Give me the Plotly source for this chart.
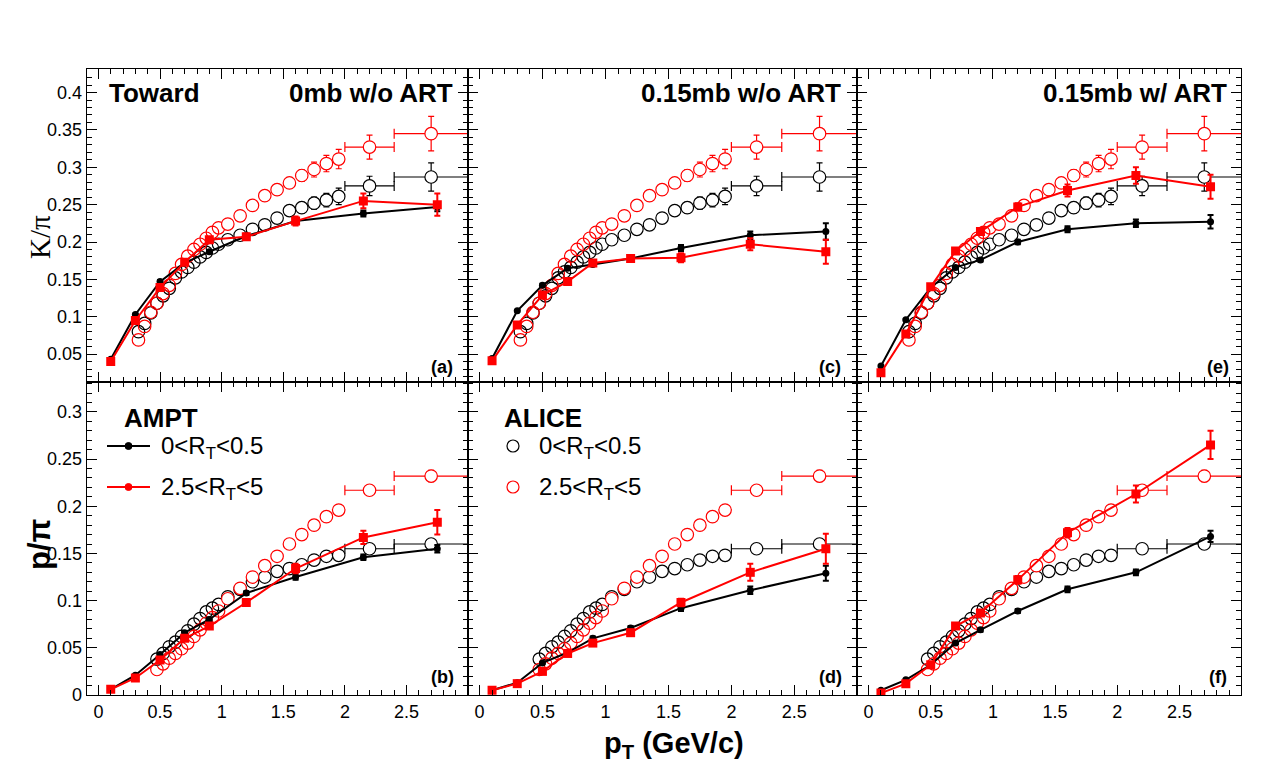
import plotly.graph_objects as go

# the page body adds an 8 px margin on every side; keep the page inside the window
OFF = 8
W, H = 1288 - 2 * OFF, 774 - 2 * OFF
SY = 0.987  # the captured picture comes out slightly squeezed vertically

# AMPT pT points (same in every panel)
ampt_pt = [0.1, 0.3, 0.5, 0.7, 0.9, 1.2, 1.6, 2.15, 2.75]

# (a) K/pi, 0mb w/o ART
a_low = [0.043, 0.103, 0.147, 0.172, 0.187, 0.208, 0.228, 0.238, 0.247]
a_low_err = [0.001, 0.001, 0.002, 0.002, 0.002, 0.003, 0.003, 0.004, 0.006]
a_high = [0.040, 0.095, 0.139, 0.173, 0.203, 0.207, 0.228, 0.255, 0.250]
a_high_err = [0.001, 0.002, 0.002, 0.003, 0.003, 0.004, 0.006, 0.010, 0.015]
# (c) K/pi, 0.15mb w/o ART
c_low = [0.044, 0.108, 0.142, 0.165, 0.170, 0.178, 0.192, 0.209, 0.214]
c_low_err = [0.001, 0.001, 0.002, 0.002, 0.002, 0.003, 0.004, 0.005, 0.011]
c_high = [0.041, 0.089, 0.129, 0.147, 0.172, 0.178, 0.179, 0.197, 0.187]
c_high_err = [0.001, 0.002, 0.002, 0.003, 0.003, 0.004, 0.006, 0.008, 0.016]
# (e) K/pi, 0.15mb w/ ART
e_low = [0.034, 0.096, 0.139, 0.166, 0.176, 0.200, 0.217, 0.225, 0.227]
e_low_err = [0.001, 0.001, 0.002, 0.002, 0.002, 0.003, 0.004, 0.005, 0.009]
e_high = [0.025, 0.077, 0.140, 0.188, 0.214, 0.247, 0.269, 0.289, 0.274]
e_high_err = [0.001, 0.002, 0.002, 0.003, 0.004, 0.005, 0.008, 0.011, 0.016]
# (b) p/pi, 0mb w/o ART
b_low = [0.006, 0.021, 0.043, 0.066, 0.080, 0.108, 0.125, 0.146, 0.155]
b_low_err = [0.0005, 0.001, 0.001, 0.001, 0.002, 0.002, 0.003, 0.003, 0.004]
b_high = [0.006, 0.018, 0.037, 0.060, 0.073, 0.098, 0.134, 0.167, 0.183]
b_high_err = [0.0005, 0.001, 0.001, 0.002, 0.002, 0.003, 0.005, 0.007, 0.013]
# (d) p/pi, 0.15mb w/o ART
d_low = [0.005, 0.013, 0.034, 0.045, 0.060, 0.071, 0.092, 0.111, 0.129]
d_low_err = [0.0005, 0.001, 0.001, 0.001, 0.002, 0.002, 0.003, 0.004, 0.008]
d_high = [0.005, 0.012, 0.025, 0.044, 0.055, 0.066, 0.098, 0.130, 0.155]
d_high_err = [0.0005, 0.001, 0.001, 0.002, 0.002, 0.003, 0.004, 0.009, 0.016]
# (f) p/pi, 0.15mb w/ ART
f_low = [0.005, 0.016, 0.032, 0.055, 0.069, 0.089, 0.112, 0.130, 0.168]
f_low_err = [0.0005, 0.001, 0.001, 0.001, 0.002, 0.002, 0.003, 0.003, 0.006]
f_high = [0.002, 0.012, 0.032, 0.073, 0.087, 0.122, 0.172, 0.213, 0.265]
f_high_err = [0.0005, 0.001, 0.002, 0.002, 0.003, 0.004, 0.005, 0.009, 0.015]

# ALICE K/pi
kpi_pt = [0.325, 0.375, 0.425, 0.475, 0.525, 0.575, 0.625, 0.675, 0.725, 0.775, 0.825, 0.875, 0.925,
          0.975, 1.05, 1.15, 1.25, 1.35, 1.45, 1.55, 1.65, 1.75, 1.85, 1.95, 2.2, 2.7]
kpi_xerr = [0, 0, 0, 0, 0, 0, 0, 0, 0, 0, 0, 0, 0, 0, 0, 0, 0, 0, 0, 0, 0, 0, 0, 0, 0.2, 0.3]
kpi_low = [0.080, 0.091, 0.105, 0.118, 0.128, 0.138, 0.152, 0.160, 0.166, 0.173, 0.180, 0.186, 0.192,
           0.197, 0.203, 0.209, 0.217, 0.223, 0.232, 0.242, 0.246, 0.252, 0.256, 0.261, 0.275, 0.287]
kpi_low_err = [0.002, 0.002, 0.002, 0.002, 0.002, 0.002, 0.002, 0.002, 0.002, 0.002, 0.002, 0.002, 0.002,
               0.002, 0.003, 0.003, 0.004, 0.004, 0.005, 0.006, 0.007, 0.008, 0.009, 0.011, 0.013, 0.019]
kpi_high = [0.069, 0.087, 0.106, 0.118, 0.131, 0.142, 0.158, 0.170, 0.181, 0.190, 0.197, 0.205, 0.213,
            0.219, 0.224, 0.235, 0.249, 0.262, 0.270, 0.279, 0.289, 0.297, 0.305, 0.311, 0.327, 0.345]
kpi_high_err = [0.002, 0.002, 0.002, 0.002, 0.002, 0.002, 0.002, 0.002, 0.002, 0.002, 0.002, 0.002, 0.002,
                0.002, 0.003, 0.004, 0.004, 0.005, 0.006, 0.007, 0.008, 0.010, 0.011, 0.013, 0.016, 0.023]

# ALICE p/pi
ppi_pt = [0.475, 0.525, 0.575, 0.625, 0.675, 0.725, 0.775, 0.825, 0.875, 0.925, 0.975, 1.05, 1.15,
          1.25, 1.35, 1.45, 1.55, 1.65, 1.75, 1.85, 1.95, 2.2, 2.7]
ppi_xerr = [0, 0, 0, 0, 0, 0, 0, 0, 0, 0, 0, 0, 0, 0, 0, 0, 0, 0, 0, 0, 0, 0.2, 0.3]
ppi_low = [0.038, 0.044, 0.051, 0.056, 0.062, 0.068, 0.075, 0.081, 0.088, 0.092, 0.096, 0.104, 0.112,
           0.120, 0.125, 0.131, 0.134, 0.138, 0.143, 0.147, 0.148, 0.155, 0.160]
ppi_low_err = [0.001, 0.001, 0.001, 0.001, 0.001, 0.001, 0.001, 0.001, 0.001, 0.001, 0.001, 0.002, 0.002,
               0.002, 0.003, 0.003, 0.003, 0.003, 0.003, 0.003, 0.003, 0.003, 0.005]
ppi_high = [0.027, 0.033, 0.039, 0.044, 0.049, 0.055, 0.062, 0.069, 0.076, 0.082, 0.089, 0.102, 0.113,
            0.125, 0.137, 0.147, 0.160, 0.170, 0.180, 0.189, 0.196, 0.217, 0.232]
ppi_high_err = [0.001, 0.001, 0.001, 0.001, 0.001, 0.001, 0.001, 0.001, 0.001, 0.001, 0.001, 0.002, 0.003,
                0.003, 0.003, 0.004, 0.004, 0.004, 0.004, 0.004, 0.004, 0.004, 0.006]

panel_labels = ["(a)", "(c)", "(e)", "(b)", "(d)", "(f)"]
model_titles = ["0mb w/o ART", "0.15mb w/o ART", "0.15mb w/ ART"]

BLACK = "#000000"
RED = "#ff0000"
FONT = "Liberation Sans"

# pixel frame of each pad (window pixels)
col_px = [(86.7, 467.5), (467.5, 856.7), (856.7, 1241.0)]
row_px = [(69.3, 381.7), (381.7, 695.0)]


def fx(x):
    return (x - OFF) / W


def fy(y):
    return 1 - (y / SY - OFF) / H


panels = [
    (0, 0, a_low, a_low_err, a_high, a_high_err),
    (0, 1, c_low, c_low_err, c_high, c_high_err),
    (0, 2, e_low, e_low_err, e_high, e_high_err),
    (1, 0, b_low, b_low_err, b_high, b_high_err),
    (1, 1, d_low, d_low_err, d_high, d_high_err),
    (1, 2, f_low, f_low_err, f_high, f_high_err),
]

fig = go.Figure()
layout = {}

for k, (row, col, lo, lo_err, hi, hi_err) in enumerate(panels, start=1):
    xa, ya = "x%d" % k, "y%d" % k
    if row == 0:
        pt, xerr = kpi_pt, kpi_xerr
        alice = [(kpi_low, kpi_low_err, BLACK), (kpi_high, kpi_high_err, RED)]
    else:
        pt, xerr = ppi_pt, ppi_xerr
        alice = [(ppi_low, ppi_low_err, BLACK), (ppi_high, ppi_high_err, RED)]

    # ALICE, fine bins below 1 GeV/c: open circles
    lowi = [i for i, p in enumerate(pt) if p < 1.0]
    highi = [i for i, p in enumerate(pt) if p >= 1.0]
    for vals, errs, colr in alice:
        fig.add_trace(go.Scatter(
            x=[pt[i] for i in lowi], y=[vals[i] for i in lowi], xaxis=xa, yaxis=ya,
            mode="markers", showlegend=False,
            marker=dict(symbol="circle-open", size=12.5, color=colr, line=dict(width=1.2, color=colr))))
    for vals, errs, colr in alice:
        fig.add_trace(go.Scatter(
            x=[pt[i] for i in highi], y=[vals[i] for i in highi], xaxis=xa, yaxis=ya,
            mode="markers", showlegend=False,
            marker=dict(symbol="circle", size=12.5, color="white", line=dict(width=1.2, color=colr)),
            error_y=dict(type="data", array=[errs[i] for i in highi], color=colr, thickness=1.2, width=3),
            error_x=dict(type="data", array=[xerr[i] for i in highi], color=colr, thickness=1.2, width=5)))

    # AMPT
    fig.add_trace(go.Scatter(
        x=ampt_pt, y=lo, xaxis=xa, yaxis=ya, mode="lines+markers", showlegend=False,
        line=dict(color=BLACK, width=2),
        marker=dict(symbol="circle", size=7, color=BLACK),
        error_y=dict(type="data", array=lo_err, color=BLACK, thickness=2, width=3)))
    fig.add_trace(go.Scatter(
        x=ampt_pt, y=hi, xaxis=xa, yaxis=ya, mode="lines+markers", showlegend=False,
        line=dict(color=RED, width=2),
        marker=dict(symbol="square", size=9, color=RED),
        error_y=dict(type="data", array=hi_err, color=RED, thickness=2, width=3)))

    x0, x1 = col_px[col]
    y0, y1 = row_px[row]
    common = dict(showline=True, mirror="allticks", linecolor=BLACK, linewidth=1,
                  ticks="inside", ticklen=10, tickwidth=1, tickcolor=BLACK,
                  showgrid=False, zeroline=False,
                  tickfont=dict(family=FONT, size=18, color=BLACK))
    layout["xaxis%d" % k] = dict(
        common, domain=[fx(x0), fx(x1)], range=[-0.095, 2.995], anchor=ya,
        tick0=0, dtick=0.5, showticklabels=(row == 1),
        minor=dict(dtick=0.1, ticks="inside", ticklen=5, tickcolor=BLACK, showgrid=False))
    if row == 0:
        yrange = [0.013, 0.431]
    else:
        yrange = [0.0, 0.332]
    layout["yaxis%d" % k] = dict(
        common, domain=[fy(y1), fy(y0)], range=yrange, anchor=xa,
        tick0=0, dtick=0.05, showticklabels=(col == 0),
        minor=dict(dtick=0.01, ticks="inside", ticklen=5, tickcolor=BLACK, showgrid=False))

annotations = []


def text(x, y, s, size, anchor="left", bold=False, family=FONT, angle=0):
    if bold:
        s = "<b>" + s + "</b>"
    annotations.append(dict(
        x=fx(x), y=fy(y), xref="paper", yref="paper", text=s, showarrow=False,
        xanchor=anchor, yanchor="middle", textangle=angle,
        font=dict(family=family, size=size, color=BLACK)))


text(107, 93, "Toward", 26, bold=True)
text(455, 93, model_titles[0], 26, anchor="right", bold=True)
text(843, 93, model_titles[1], 26, anchor="right", bold=True)
text(1229, 93, model_titles[2], 26, anchor="right", bold=True)

label_pos = [(455, 367), (843, 367), (1231, 367), (456, 677), (844, 677), (1229, 677)]
for lab, (lx, ly) in zip(panel_labels, label_pos):
    text(lx, ly, lab, 18, anchor="right", bold=True)

# legends
text(122, 418, "AMPT", 26, bold=True)
text(159, 447, "0&lt;R<sub>T</sub>&lt;0.5", 24)
text(159, 488, "2.5&lt;R<sub>T</sub>&lt;5", 24)
text(502, 418, "ALICE", 26, bold=True)
text(537, 447, "0&lt;R<sub>T</sub>&lt;0.5", 24)
text(537, 488, "2.5&lt;R<sub>T</sub>&lt;5", 24)

# axis titles
text(40, 237, "K/π", 29, anchor="center", family="Liberation Serif", angle=-90)
text(40, 545, "p/π", 31, anchor="center", bold=True, angle=-90)
text(674, 745, "p<sub>T</sub> (GeV/c)", 29, anchor="center", bold=True)

shapes = []
for yy, colr in [(446, BLACK), (487, RED)]:
    shapes.append(dict(type="line", xref="paper", yref="paper",
                       x0=fx(107), x1=fx(150), y0=fy(yy), y1=fy(yy),
                       line=dict(color=colr, width=2)))
    shapes.append(dict(type="circle", xref="paper", yref="paper",
                       x0=fx(125), x1=fx(132), y0=fy(yy + 3.5), y1=fy(yy - 3.5),
                       fillcolor=colr, line=dict(color=colr, width=1)))
    shapes.append(dict(type="circle", xref="paper", yref="paper",
                       x0=fx(507), x1=fx(519), y0=fy(yy + 6), y1=fy(yy - 6),
                       line=dict(color=colr, width=1.2)))

fig.update_layout(
    width=W, height=H, margin=dict(l=0, r=0, t=0, b=0),
    paper_bgcolor="white", plot_bgcolor="white",
    annotations=annotations, shapes=shapes, showlegend=False,
    **layout)

fig.write_html("out.html")
